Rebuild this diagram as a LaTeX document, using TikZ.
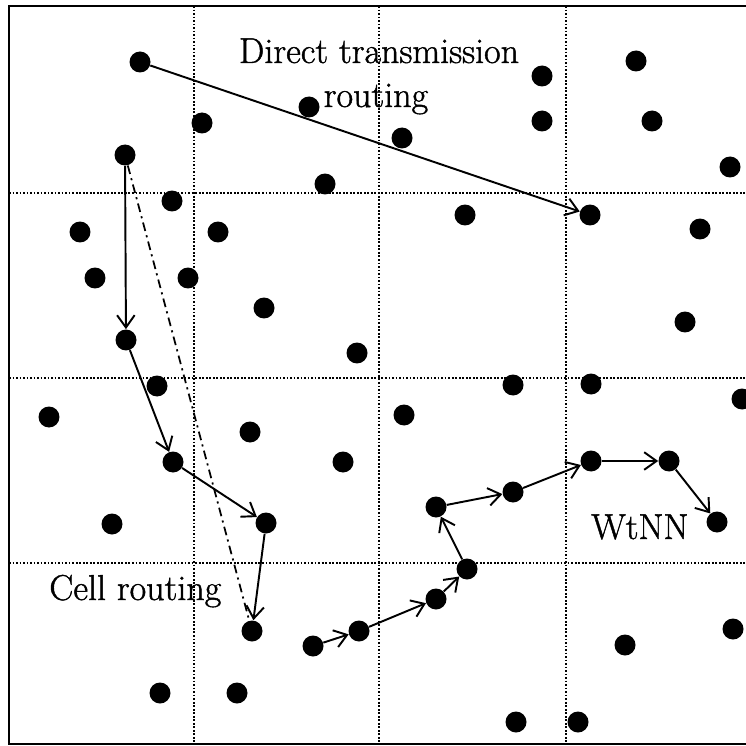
\documentclass[tikz,border=0pt]{standalone}
\usepackage{fontspec}
\setmainfont{Latin Modern Roman}[FakeBold=1.2]
\usetikzlibrary{arrows.meta}
\begin{document}
\begin{tikzpicture}[x=0.02cm,y=-0.02cm,
  dot/.style={circle,fill=black,inner sep=0pt,minimum size=0.42cm},
  route/.style={line width=1.1pt,-{Straight Barb[length=7pt,width=10pt,line width=1.1pt]}},
  direct/.style={line width=1pt,dash pattern=on 5pt off 2.5pt on 1.2pt off 2.5pt},
  gridline/.style={line width=0.9pt,dash pattern=on 1pt off 1pt},
  frameline/.style={line width=1.3pt},
  lbl/.style={inner sep=0pt,font=\fontsize{20.5}{24}\selectfont}]
\useasboundingbox (0,0) rectangle (746,746);
% frame
\coordinate (ftl) at (9,6);
\coordinate (ftr) at (746,6);
\coordinate (fbl) at (9,744);
\coordinate (fbr) at (746,744);
\draw[frameline] (ftr) -- (ftl) -- (fbl) -- (fbr);
% grid
\foreach \gx in {194,379,566} {
  \coordinate (gt\gx) at (\gx,6);
  \coordinate (gb\gx) at (\gx,744);
  \draw[gridline] (gt\gx) -- (gb\gx);
}
\foreach \gy in {193,378,563} {
  \coordinate (gl\gy) at (9,\gy);
  \coordinate (gr\gy) at (746,\gy);
  \draw[gridline] (gl\gy) -- (gr\gy);
}
% dots
\node[dot] (d1) at (140,62) {};
\node[dot] (d2) at (202,123) {};
\node[dot] (d3) at (309,107) {};
\node[dot] (d4) at (125,155) {};
\node[dot] (d5) at (325,184) {};
\node[dot] (d6) at (172,201) {};
\node[dot] (d7) at (80,232) {};
\node[dot] (d8) at (218,232) {};
\node[dot] (d9) at (95,278) {};
\node[dot] (d10) at (188,278) {};
\node[dot] (d11) at (264,308) {};
\node[dot] (d12) at (126,340) {};
\node[dot] (d13) at (357,353) {};
\node[dot] (d14) at (157,386) {};
\node[dot] (d15) at (49,417) {};
\node[dot] (d16) at (250,432) {};
\node[dot] (d17) at (404,415) {};
\node[dot] (d18) at (173,462) {};
\node[dot] (d19) at (343,462) {};
\node[dot] (d20) at (112,524) {};
\node[dot] (d21) at (266,523) {};
\node[dot] (d22) at (252,631) {};
\node[dot] (d23) at (160,693) {};
\node[dot] (d24) at (237,693) {};
\node[dot] (d25) at (313,646) {};
\node[dot] (d26) at (359,631) {};
\node[dot] (d27) at (436,599) {};
\node[dot] (d28) at (467,569) {};
\node[dot] (d29) at (436,507) {};
\node[dot] (d30) at (513,492) {};
\node[dot] (d31) at (591,461) {};
\node[dot] (d32) at (669,461) {};
\node[dot] (d33) at (717,522) {};
\node[dot] (d34) at (542,76) {};
\node[dot] (d35) at (542,121) {};
\node[dot] (d36) at (465,215) {};
\node[dot] (d37) at (590,215) {};
\node[dot] (d38) at (636,61) {};
\node[dot] (d39) at (652,121) {};
\node[dot] (d40) at (730,167) {};
\node[dot] (d41) at (700,229) {};
\node[dot] (d42) at (685,322) {};
\node[dot] (d43) at (513,385) {};
\node[dot] (d44) at (591,384) {};
\node[dot] (d45) at (742,399) {};
\node[dot] (d46) at (625,645) {};
\node[dot] (d47) at (733,629) {};
\node[dot] (d48) at (516,722) {};
\node[dot] (d49) at (578,722) {};
\node[dot] (d50) at (402,138) {};
% direct transmission
\draw[route] (d1) -- (d37);
% cell routing
\draw[direct] (d4) -- (d22);
\draw[route] (d4) -- (d12);
\draw[route] (d12) -- (d18);
\draw[route] (d18) -- (d21);
\draw[route] (d21) -- (d22);
% WtNN
\draw[route] (d25) -- (d26);
\draw[route] (d26) -- (d27);
\draw[route] (d27) -- (d28);
\draw[route] (d28) -- (d29);
\draw[route] (d29) -- (d30);
\draw[route] (d30) -- (d31);
\draw[route] (d31) -- (d32);
\draw[route] (d32) -- (d33);
% labels
\node[lbl,anchor=base] (t1) at (379,63) {Direct transmission};
\node[lbl,anchor=base] (t2) at (376,107) {routing};
\node[lbl,anchor=base west] (t3) at (49,600) {Cell routing};
\node[lbl,anchor=base west] (t4) at (591,539) {WtNN};
\end{tikzpicture}
\end{document}
